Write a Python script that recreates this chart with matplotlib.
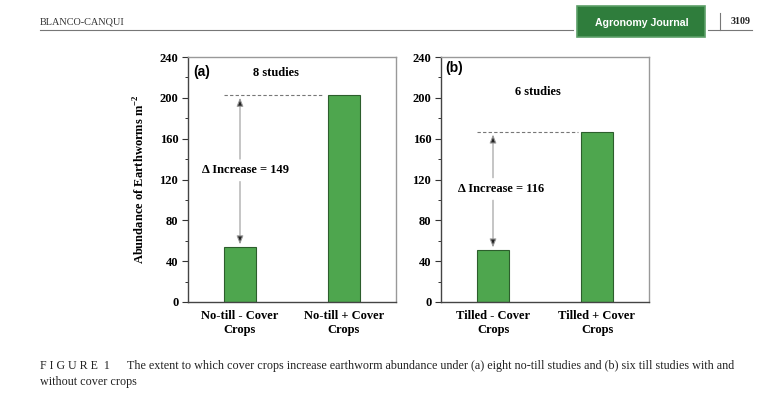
import matplotlib
matplotlib.use("Agg")
import matplotlib.pyplot as plt
from matplotlib.lines import Line2D
from matplotlib.patches import FancyBboxPatch
from matplotlib.ticker import MultipleLocator

plt.rcParams["font.family"] = "Liberation Serif"
plt.rcParams["mathtext.fontset"] = "custom"
plt.rcParams["mathtext.rm"] = "Liberation Serif"
plt.rcParams["mathtext.bf"] = "Liberation Serif:bold"

# --- data ---
categories_a = ["No-till - Cover\nCrops", "No-till + Cover\nCrops"]
abundance_a = [54, 203]
categories_b = ["Tilled - Cover\nCrops", "Tilled + Cover\nCrops"]
abundance_b = [51, 167]
panel_labels = ["(a)", "(b)"]
study_notes = ["8 studies", "6 studies"]
y_ticks = [0, 40, 80, 120, 160, 200, 240]

caption_head = "F I G U R E  1"
caption_line1 = ("The extent to which cover crops increase earthworm abundance under "
                 "(a) eight no-till studies and (b) six till studies with and")
caption_line2 = "without cover crops"

W, H = 771, 393
BAR_GREEN = "#4ea64e"
BAR_EDGE = "#2c5e2c"


def fx(x):
    return x / W


def fy(y):
    return 1 - y / H


fig = plt.figure(figsize=(W / 100, H / 100), dpi=100)

# panel-specific layout: axes left px, label pos, note pos, delta text pos, dashed end
panels = [
    dict(left=188, cats=categories_a, vals=abundance_a, lab_xy=(0.024, 0.939),
         note_xy=(0.346, 224), delta_xy=(0.05, 129), dash_end=0.79, ylabel=True),
    dict(left=441, cats=categories_b, vals=abundance_b, lab_xy=(0.019, 0.956),
         note_xy=(0.433, 205.7), delta_xy=(0.077, 110.7), dash_end=0.82, ylabel=False),
]

bar_w = 0.31
for i, p in enumerate(panels):
    ax = fig.add_axes([fx(p["left"]), fy(302), 208 / W, 245 / H])
    vals = p["vals"]
    xpos = list(range(len(vals)))
    ax.bar(xpos, vals, width=bar_w, color=BAR_GREEN, edgecolor=BAR_EDGE, linewidth=0.8)
    ax.set_xlim(-0.5, 1.5)
    ax.set_ylim(0, 240)

    ax.set_yticks(y_ticks)
    ax.yaxis.set_minor_locator(MultipleLocator(20))
    ax.tick_params(axis="y", which="major", direction="out", length=4, width=0.8,
                   color="#333333", labelsize=9, pad=3)
    ax.tick_params(axis="y", which="minor", direction="out", length=2.5, width=0.7,
                   color="#333333")
    for lbl in ax.get_yticklabels():
        lbl.set_fontweight("bold")
    ax.set_xticks(xpos)
    ax.set_xticklabels(p["cats"], fontsize=9, fontweight="bold", linespacing=1.2)
    ax.tick_params(axis="x", length=0, pad=6)

    for side in ("left", "bottom"):
        ax.spines[side].set_color("#444444")
        ax.spines[side].set_linewidth(1.0)
    for side in ("top", "right"):
        ax.spines[side].set_color("#999999")
        ax.spines[side].set_linewidth(1.0)

    if p["ylabel"]:
        ax.set_ylabel(r"Abundance of Earthworms m$^{\mathbf{-2}}$", fontsize=9,
                      fontweight="bold")
        ax.yaxis.set_label_coords(-0.195, 0.5)

    # panel letter and study count
    ax.text(*p["lab_xy"], panel_labels[i], transform=ax.transAxes, fontsize=10,
            fontweight="bold", family="Liberation Sans", va="center", ha="left")
    ax.text(*p["note_xy"], study_notes[i], fontsize=9, fontweight="bold",
            ha="center", va="center")

    # dashed reference line at the +cover crop level
    ax.hlines(vals[1], xpos[0] - bar_w / 2, p["dash_end"], colors="#777777",
              linestyles=(0, (3, 2)), linewidth=0.8)

    # increase arrow split around the label
    dx, dy = p["delta_xy"]
    ax.text(dx, dy, f"\u0394 Increase = {vals[1] - vals[0]}", fontsize=9,
            fontweight="bold", ha="center", va="center")
    arrow_kw = dict(arrowstyle="-|>,head_length=0.5,head_width=0.2",
                    ec="#9a9a9a", fc="#222222", lw=0.8, shrinkA=0, shrinkB=0)
    ax.annotate("", xy=(xpos[0], vals[1] - 3), xytext=(xpos[0], dy + 11),
                arrowprops=arrow_kw)
    ax.annotate("", xy=(xpos[0], vals[0] + 2.5), xytext=(xpos[0], dy - 11),
                arrowprops=arrow_kw)

# --- page header ---
fig.text(fx(40), fy(22), "BLANCO-CANQUI", fontsize=7.4, va="center", ha="left",
         color="#333333")
fig.add_artist(Line2D([fx(40), fx(573)], [fy(30), fy(30)], color="#777777", lw=0.8))
fig.add_artist(FancyBboxPatch((fx(577), fy(37)), 128 / W, 31 / H,
                              boxstyle="square,pad=0", fc="#2f7d3c", ec="#5c9f68",
                              lw=1.2, transform=fig.transFigure))
fig.text(fx(642), fy(22.5), "Agronomy Journal", fontsize=7.6, fontweight="bold",
         family="Liberation Sans", color="white", ha="center", va="center")
fig.add_artist(Line2D([fx(708), fx(752)], [fy(30), fy(30)], color="#777777", lw=0.8))
fig.add_artist(Line2D([fx(720), fx(720)], [fy(13), fy(30)], color="#777777", lw=0.8))
fig.text(fx(741), fy(21.7), "3109", fontsize=7.2, fontweight="bold", ha="center",
         va="center", color="#222222")

# --- caption ---
fig.text(fx(40), fy(366), caption_head, fontsize=8.6, ha="left", va="center",
         color="#222222")
fig.text(fx(127), fy(366), caption_line1, fontsize=8.7, ha="left", va="center",
         color="#222222")
fig.text(fx(40), fy(382), caption_line2, fontsize=8.7, ha="left", va="center",
         color="#222222")

fig.savefig("out.png", dpi=100)
